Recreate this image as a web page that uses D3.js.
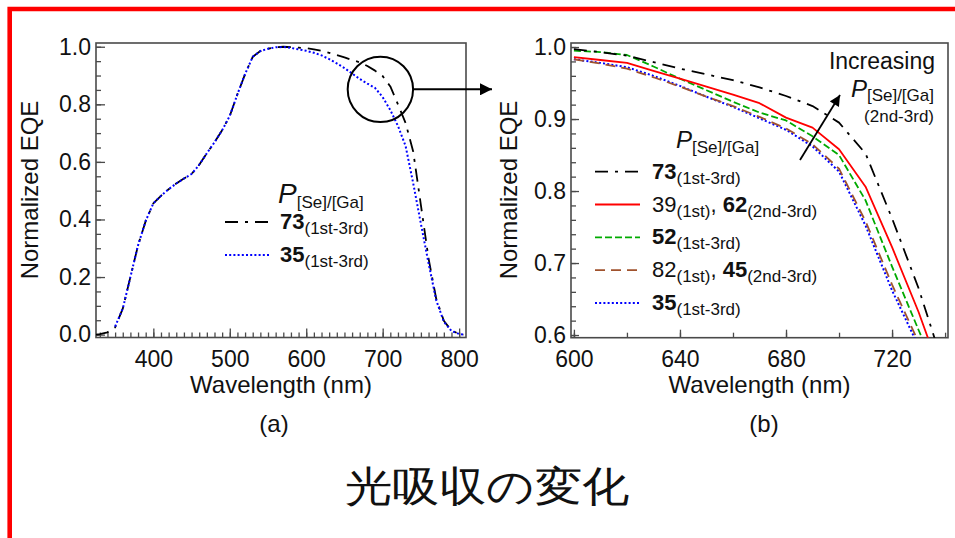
<!DOCTYPE html>
<html><head><meta charset="utf-8">
<script src="https://cdn.jsdelivr.net/npm/d3@7"></script>
<style>
html,body{margin:0;padding:0;background:#fff;}
svg{display:block;}
text{font-family:"Liberation Sans",Arial,Helvetica,sans-serif;fill:#111;}
</style></head><body>
<svg id="c" width="955" height="538"></svg>
<script>
// ---------- data: panel (a) ----------
const wlA = [325,330,340,350,360,370,380,390,400,410,420,430,440,450,460,470,480,490,500,510,520,530,540,550,560,570,580,590,600,610,620,630,640,650,660,670,680,690,700,710,720,730,740,750,760,770,780,790,800,806];
const eqeA73 = [0.000,0.002,0.008,0.025,0.090,0.200,0.310,0.395,0.456,0.482,0.505,0.525,0.542,0.558,0.590,0.630,0.668,0.710,0.760,0.835,0.905,0.965,0.985,0.993,0.998,1.000,0.999,0.997,0.995,0.991,0.986,0.979,0.971,0.963,0.954,0.946,0.933,0.917,0.898,0.862,0.800,0.735,0.635,0.450,0.265,0.125,0.048,0.014,0.003,0.000];
const eqeA35 = [null,null,null,0.028,0.090,0.200,0.310,0.395,0.456,0.482,0.505,0.525,0.542,0.558,0.590,0.630,0.668,0.710,0.760,0.835,0.905,0.965,0.985,0.993,0.998,0.999,0.996,0.991,0.986,0.979,0.970,0.957,0.942,0.926,0.907,0.888,0.872,0.857,0.825,0.780,0.725,0.655,0.525,0.385,0.248,0.120,0.045,0.013,0.002,0.000];

// ---------- data: panel (b) ----------
const wlB = [600,610,620,630,640,650,660,670,680,690,700,710,720,730,740];
const eqeB73   = [0.997,0.993,0.988,0.979,0.970,0.962,0.954,0.944,0.932,0.918,0.895,0.852,0.762,0.665,0.550];
const eqeB3962 = [0.986,0.982,0.978,0.967,0.956,0.945,0.934,0.922,0.902,0.888,0.858,0.806,0.722,0.632,0.530];
const eqeB52   = [0.995,0.993,0.989,0.973,0.956,0.940,0.924,0.909,0.898,0.876,0.850,0.787,0.695,0.607,0.520];
const eqeB8245 = [0.983,0.977,0.970,0.958,0.945,0.931,0.918,0.903,0.887,0.865,0.831,0.758,0.670,0.590,0.500];
const eqeB35   = [0.983,0.978,0.972,0.960,0.946,0.931,0.917,0.901,0.885,0.862,0.827,0.752,0.662,0.584,0.500];

// ---------- tick labels ----------
const xTicksA = [400,500,600,700,800];
const yTicksA = [0.0,0.2,0.4,0.6,0.8,1.0];
const xTicksB = [600,640,680,720];
const yTicksB = [0.6,0.7,0.8,0.9,1.0];

// ---------- legend texts ----------
const legendA = [
  [{t:"73",b:1},{t:"(1st-3rd)",s:1}],
  [{t:"35",b:1},{t:"(1st-3rd)",s:1}]
];
const legendB = [
  [{t:"73",b:1},{t:"(1st-3rd)",s:1}],
  [{t:"39"},{t:"(1st)",s:1},{t:", "},{t:"62",b:1},{t:"(2nd-3rd)",s:1}],
  [{t:"52",b:1},{t:"(1st-3rd)",s:1}],
  [{t:"82"},{t:"(1st)",s:1},{t:", "},{t:"45",b:1},{t:"(2nd-3rd)",s:1}],
  [{t:"35",b:1},{t:"(1st-3rd)",s:1}]
];

// ---------- styles ----------
const ST = {
  k: {c:"#000000", d:"13,7,3,7", w:1.8},
  r: {c:"#ff0000", d:null, w:1.8},
  g: {c:"#00aa00", d:"7,3", w:1.8},
  br:{c:"#a0522d", d:"10,6", w:1.8},
  bl:{c:"#0000ff", d:"2,2.2", w:2}
};

const svg = d3.select("#c");
const FRAME = "#4a4a4a";
const TICKFONT = 23;

// red border
svg.append("path").attr("d","M9.7,545 V9 H960").attr("fill","none")
  .attr("stroke","#ff0000").attr("stroke-width",4.6).attr("stroke-linejoin","miter");

const defs = svg.append("defs");
defs.append("clipPath").attr("id","clipA").append("rect").attr("x",96).attr("y",43).attr("width",370).attr("height",294.5);
defs.append("clipPath").attr("id","clipB").append("rect").attr("x",571).attr("y",43).attr("width",377).attr("height",294.7);
defs.append("marker").attr("id","arr").attr("viewBox","0 0 10 10").attr("refX",10).attr("refY",5)
  .attr("markerWidth",7).attr("markerHeight",6).attr("markerUnits","strokeWidth").attr("orient","auto")
  .append("path").attr("d","M0,0 L10,5 L0,10 Z").attr("fill","#000");

function drawPanel(o){
  const x = d3.scaleLinear().domain(o.xd).range([o.x0,o.x1]);
  const y = d3.scaleLinear().domain(o.yd).range([o.y1,o.y0]);
  const g = svg.append("g");
  // minor ticks
  g.append("g").attr("transform",`translate(0,${o.y1})`)
    .call(d3.axisBottom(x).tickValues(o.xMinor).tickSize(-o.minorLen).tickFormat(""))
    .call(s=>{s.select(".domain").remove(); s.selectAll("line").attr("stroke",FRAME).attr("stroke-width",1.3);});
  g.append("g").attr("transform",`translate(${o.x0},0)`)
    .call(d3.axisLeft(y).tickValues(o.yMinor).tickSize(-o.minorLen).tickFormat(""))
    .call(s=>{s.select(".domain").remove(); s.selectAll("line").attr("stroke",FRAME).attr("stroke-width",1.3);});
  // major ticks + labels
  g.append("g").attr("transform",`translate(0,${o.y1})`)
    .call(d3.axisBottom(x).tickValues(o.xTicks).tickSize(-o.majorLen).tickPadding(13).tickFormat(d3.format("d")))
    .call(s=>{s.select(".domain").remove(); s.selectAll("line").attr("stroke",FRAME).attr("stroke-width",1.3);
      s.selectAll("text").attr("font-size",TICKFONT).attr("fill","#111").attr("font-family","Liberation Sans, Arial, sans-serif");});
  g.append("g").attr("transform",`translate(${o.x0},0)`)
    .call(d3.axisLeft(y).tickValues(o.yTicks).tickSize(-o.majorLen).tickPadding(5).tickFormat(d3.format(".1f")))
    .call(s=>{s.select(".domain").remove(); s.selectAll("line").attr("stroke",FRAME).attr("stroke-width",1.3);
      s.selectAll("text").attr("font-size",TICKFONT).attr("fill","#111").attr("font-family","Liberation Sans, Arial, sans-serif");});
  // frame
  g.append("rect").attr("x",o.x0).attr("y",o.y0).attr("width",o.x1-o.x0).attr("height",o.y1-o.y0)
    .attr("fill","none").attr("stroke",FRAME).attr("stroke-width",1.6);
  // series
  const line = d3.line().defined(d=>d[1]!=null).x(d=>x(d[0])).y(d=>y(d[1]));
  const lg = g.append("g").attr("clip-path",`url(#${o.clip})`);
  o.series.forEach(sr=>{
    const st = ST[sr.s];
    lg.append("path").datum(o.wl.map((w,i)=>[w,sr.v[i]]))
      .attr("d",line).attr("fill","none").attr("stroke",st.c).attr("stroke-width",st.w)
      .attr("stroke-dasharray",st.d).attr("stroke-linejoin","round");
  });
  // axis titles
  svg.append("text").attr("x",(o.x0+o.x1)/2).attr("y",393).attr("text-anchor","middle")
    .attr("font-size",24).text("Wavelength (nm)");
  svg.append("text").attr("transform",`translate(${o.ytx},190) rotate(-90)`).attr("text-anchor","middle")
    .attr("font-size",24).text("Normalized EQE");
  svg.append("text").attr("x",o.labx).attr("y",432).attr("text-anchor","middle").attr("font-size",24).text(o.lab);
  return {x,y};
}

function rich(t, parts, big, sub, shift){
  parts.forEach((p,i)=>{
    const ts = t.append("tspan").text(p.t);
    if(p.s){ ts.attr("font-size",sub).attr("dy",shift); }
    else {
      ts.attr("font-size",big);
      if(i>0 && parts[i-1].s) ts.attr("dy",-shift);
    }
    if(p.b) ts.attr("font-weight","bold");
  });
}

function legend(x0,x1,tx,ys,styles,rows,big,sub){
  rows.forEach((r,i)=>{
    const st = ST[styles[i]];
    svg.append("line").attr("x1",x0).attr("x2",x1).attr("y1",ys[i]).attr("y2",ys[i])
      .attr("stroke",st.c).attr("stroke-width",st.w).attr("stroke-dasharray",st.d);
    const t = svg.append("text").attr("x",tx).attr("y",ys[i]+7);
    rich(t,r,big,sub,5);
  });
}

// ---------- panel (a) ----------
const A = drawPanel({
  x0:96,x1:466,y0:43,y1:337.5, xd:[325,809], yd:[-0.01,1.013],
  xTicks:xTicksA, yTicks:yTicksA,
  xMinor:d3.range(330,810,10), yMinor:d3.range(0,1.001,0.05),
  majorLen:9, minorLen:5, clip:"clipA", wl:wlA,
  series:[{v:eqeA73,s:"k"},{v:eqeA35,s:"bl"}],
  ytx:38, labx:274, lab:"(a)"
});
// legend a
{
  const t = svg.append("text").attr("x",278).attr("y",203);
  t.append("tspan").text("P").attr("font-size",28).attr("font-style","italic");
  t.append("tspan").text("[Se]/[Ga]").attr("font-size",17).attr("dy",5);
  legend(225,270,280,[222,255],["k","bl"],legendA,22,17);
}
// circle + arrow
svg.append("circle").attr("cx",A.x(697)).attr("cy",A.y(0.852)).attr("r",32.7)
  .attr("fill","none").attr("stroke","#000").attr("stroke-width",2);
svg.append("line").attr("x1",A.x(697)+32.7).attr("y1",A.y(0.852)).attr("x2",492).attr("y2",A.y(0.852))
  .attr("stroke","#000").attr("stroke-width",2).attr("marker-end","url(#arr)");

// ---------- panel (b) ----------
const B = drawPanel({
  x0:571,x1:948,y0:43,y1:337.7, xd:[598.9,741.1], yd:[0.5963,1.0056],
  xTicks:xTicksB, yTicks:yTicksB,
  xMinor:d3.range(600,741,20), yMinor:d3.range(0.6,1.001,0.02),
  majorLen:8, minorLen:5, clip:"clipB", wl:wlB,
  series:[{v:eqeB35,s:"bl"},{v:eqeB8245,s:"br"},{v:eqeB52,s:"g"},{v:eqeB3962,s:"r"},{v:eqeB73,s:"k"}],
  ytx:517, labx:764, lab:"(b)"
});
{
  const t = svg.append("text").attr("x",676).attr("y",148);
  t.append("tspan").text("P").attr("font-size",24).attr("font-style","italic");
  t.append("tspan").text("[Se]/[Ga]").attr("font-size",17).attr("dy",5);
  legend(595,640,652,[171.7,204.5,237.3,270.1,303],["k","r","g","br","bl"],legendB,22,17);
}
// annotation
svg.append("text").attr("x",935).attr("y",69).attr("text-anchor","end").attr("font-size",23).text("Increasing");
{
  const t = svg.append("text").attr("x",934).attr("y",97).attr("text-anchor","end");
  t.append("tspan").text("P").attr("font-size",24).attr("font-style","italic");
  t.append("tspan").text("[Se]/[Ga]").attr("font-size",17).attr("dy",4);
}
svg.append("text").attr("x",934).attr("y",122).attr("text-anchor","end").attr("font-size",17).text("(2nd-3rd)");
svg.append("line").attr("x1",800).attr("y1",160).attr("x2",840).attr("y2",95)
  .attr("stroke","#000").attr("stroke-width",1.8).attr("marker-end","url(#arr)");

// title
svg.append("text").attr("x",487).attr("y",501).attr("text-anchor","middle")
  .attr("font-family","'Noto Sans CJK JP','Noto Sans CJK SC',sans-serif").attr("font-size",42)
  .attr("font-weight",500)
  .attr("textLength",285).attr("lengthAdjust","spacingAndGlyphs").attr("fill","#000").text("光吸収の変化");
</script>
</body></html>
